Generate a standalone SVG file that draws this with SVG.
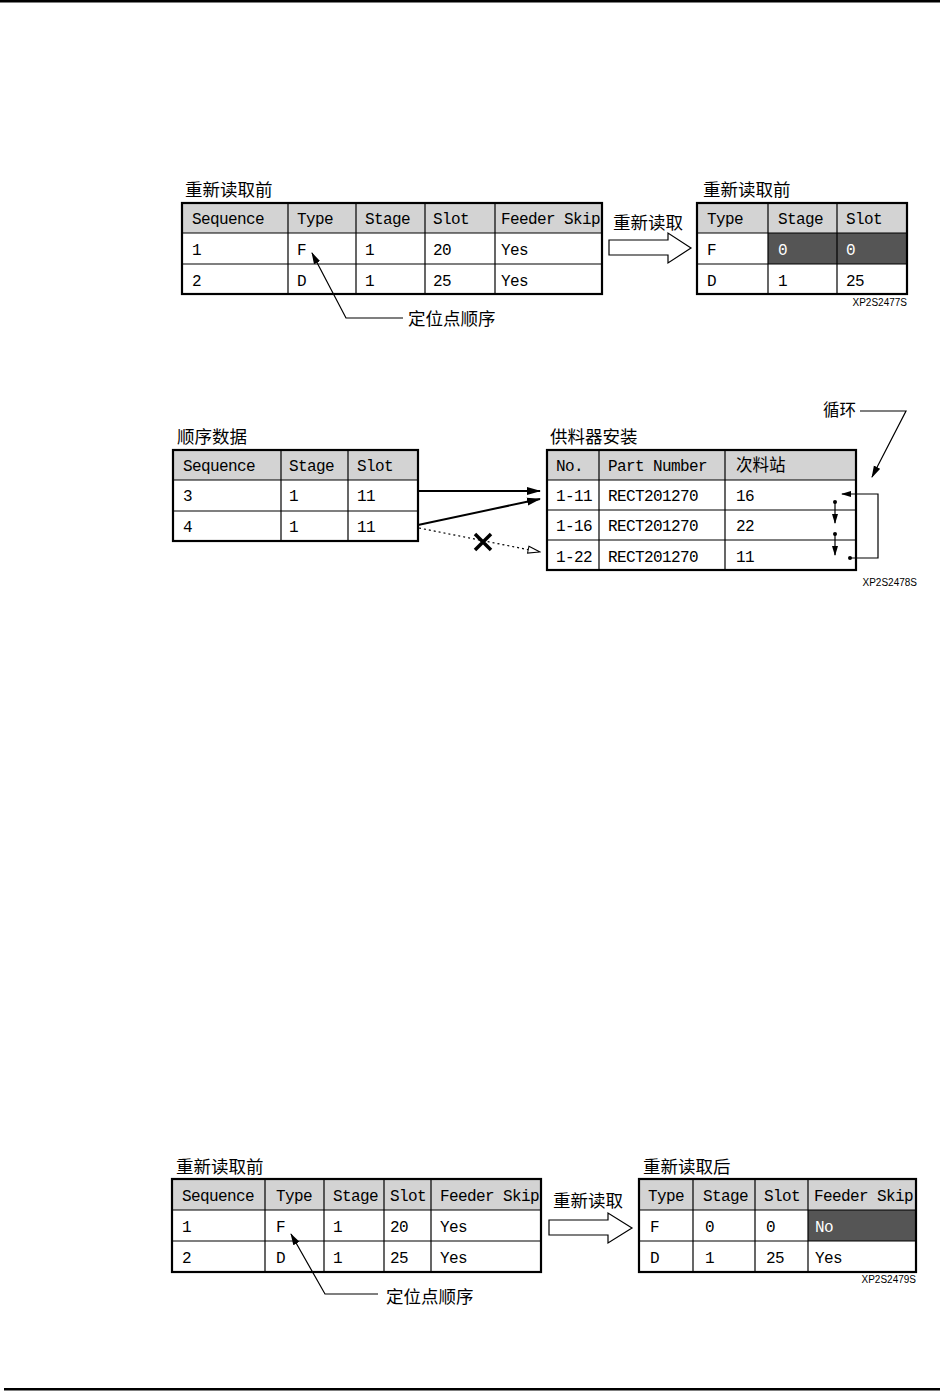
<svg xmlns="http://www.w3.org/2000/svg" width="949" height="1391" viewBox="0 0 949 1391">
<defs>
<style>
.t{font-family:"Liberation Mono","DejaVu Sans Mono",monospace;font-size:16px;letter-spacing:-0.6px;fill:#000}
.w{fill:#fff}
.c{font-family:"Noto Sans CJK SC","Noto Sans",sans-serif;font-size:17.5px;fill:#000}
.cs{font-family:"Noto Sans CJK SC","Noto Sans",sans-serif;font-size:16.5px;fill:#000}
.id{font-family:"Liberation Sans Narrow","Liberation Sans",sans-serif;font-size:10px;fill:#000;text-anchor:end}
.hdr{fill:#d3d3d3}
.box{fill:none;stroke:#000;stroke-width:2.2}
.ln{stroke:#000;stroke-width:1.2;fill:none}
.ar{stroke:#000;stroke-width:1.2;fill:none}
.thick{stroke:#000;stroke-width:2;fill:none}
.hollow{fill:#fff;stroke:#000;stroke-width:1.2}
</style>
<marker id="ah" viewBox="0 0 12 8" refX="11" refY="4" markerWidth="12" markerHeight="8" markerUnits="userSpaceOnUse" orient="auto">
<path d="M0,0.5 L12,4 L0,7.5 Z" fill="#000"/>
</marker>
<marker id="ahs" viewBox="0 0 10 6" refX="9" refY="3" markerWidth="10" markerHeight="6" markerUnits="userSpaceOnUse" orient="auto">
<path d="M0,0 L10,3 L0,6 Z" fill="#000"/>
</marker>
<marker id="ahl" viewBox="0 0 14 10" refX="13" refY="5" markerWidth="14" markerHeight="10" markerUnits="userSpaceOnUse" orient="auto">
<path d="M0,1 L14,5 L0,9 Z" fill="#000"/>
</marker>
<marker id="aho" viewBox="0 0 14 10" refX="13" refY="5" markerWidth="14" markerHeight="10" markerUnits="userSpaceOnUse" orient="auto">
<path d="M1,1.5 L13,5 L1,8.5 Z" fill="#fff" stroke="#000" stroke-width="1"/>
</marker>
</defs>
<rect width="949" height="1391" fill="#fff"/>
<rect x="0" y="0" width="940" height="2.5" fill="#000"/>
<rect x="4" y="1388" width="936" height="2.5" fill="#000"/>

<!-- Section 1 -->
<g id="t1-before">
<text class="c" x="185" y="196">重新读取前</text>
<rect class="hdr" x="182" y="203" width="420" height="30"/>
<line class="ln" x1="182" y1="233" x2="602" y2="233"/>
<line class="ln" x1="182" y1="264" x2="602" y2="264"/>
<line class="ln" x1="288" y1="203" x2="288" y2="294"/>
<line class="ln" x1="356" y1="203" x2="356" y2="294"/>
<line class="ln" x1="425" y1="203" x2="425" y2="294"/>
<line class="ln" x1="495" y1="203" x2="495" y2="294"/>
<rect class="box" x="182" y="203" width="420" height="91"/>
<text class="t" x="192" y="224">Sequence</text><text class="t" x="297" y="224">Type</text><text class="t" x="365" y="224">Stage</text><text class="t" x="433" y="224">Slot</text><text class="t" x="501" y="224">Feeder Skip</text>
<text class="t" x="192" y="255">1</text><text class="t" x="297" y="255">F</text><text class="t" x="365" y="255">1</text><text class="t" x="433" y="255">20</text><text class="t" x="501" y="255">Yes</text>
<text class="t" x="192" y="286">2</text><text class="t" x="297" y="286">D</text><text class="t" x="365" y="286">1</text><text class="t" x="433" y="286">25</text><text class="t" x="501" y="286">Yes</text>
</g>
<g id="t1-label">
<text class="c" x="408" y="325">定位点顺序</text>
</g>
<g id="t1-reread">
<text class="c" x="613" y="229">重新读取</text>
<path class="hollow" d="M609,240 L668,240 L668,233 L691,248 L668,263 L668,255 L609,255 Z"/>
</g>
<g id="t1-after">
<text class="c" x="703" y="196">重新读取前</text>
<rect class="hdr" x="697" y="203" width="210" height="30"/>
<rect x="768" y="233" width="139" height="31" fill="#555"/>
<line class="ln" x1="697" y1="233" x2="907" y2="233"/>
<line class="ln" x1="697" y1="264" x2="907" y2="264"/>
<line class="ln" x1="768" y1="203" x2="768" y2="294"/>
<line class="ln" x1="837" y1="203" x2="837" y2="294"/>
<rect class="box" x="697" y="203" width="210" height="91"/>
<text class="t" x="707" y="224">Type</text><text class="t" x="778" y="224">Stage</text><text class="t" x="846" y="224">Slot</text>
<text class="t" x="707" y="255">F</text><text class="t w" x="778" y="255">0</text><text class="t w" x="846" y="255">0</text>
<text class="t" x="707" y="286">D</text><text class="t" x="778" y="286">1</text><text class="t" x="846" y="286">25</text>
<text class="id" x="907" y="306">XP2S2477S</text>
</g>

<!-- Section 2 -->
<g id="t2-seq">
<text class="c" x="177" y="443">顺序数据</text>
<rect class="hdr" x="173" y="450" width="245" height="30"/>
<line class="ln" x1="173" y1="480" x2="418" y2="480"/>
<line class="ln" x1="173" y1="511" x2="418" y2="511"/>
<line class="ln" x1="281" y1="450" x2="281" y2="541"/>
<line class="ln" x1="348" y1="450" x2="348" y2="541"/>
<rect class="box" x="173" y="450" width="245" height="91"/>
<text class="t" x="183" y="471">Sequence</text><text class="t" x="289" y="471">Stage</text><text class="t" x="357" y="471">Slot</text>
<text class="t" x="183" y="501">3</text><text class="t" x="289" y="501">1</text><text class="t" x="357" y="501">11</text>
<text class="t" x="183" y="532">4</text><text class="t" x="289" y="532">1</text><text class="t" x="357" y="532">11</text>
</g>
<g id="t2-feeder">
<text class="c" x="550" y="443">供料器安装</text>
<rect class="hdr" x="547" y="450" width="309" height="30"/>
<line class="ln" x1="547" y1="480" x2="856" y2="480"/>
<line class="ln" x1="547" y1="510" x2="856" y2="510"/>
<line class="ln" x1="547" y1="540" x2="856" y2="540"/>
<line class="ln" x1="599" y1="450" x2="599" y2="570"/>
<line class="ln" x1="725" y1="450" x2="725" y2="570"/>
<rect class="box" x="547" y="450" width="309" height="120"/>
<text class="t" x="556" y="471">No.</text><text class="t" x="608" y="471">Part Number</text><text class="cs" x="736" y="471">次料站</text>
<text class="t" x="556" y="501">1-11</text><text class="t" x="608" y="501">RECT201270</text><text class="t" x="736" y="501">16</text>
<text class="t" x="556" y="531">1-16</text><text class="t" x="608" y="531">RECT201270</text><text class="t" x="736" y="531">22</text>
<text class="t" x="556" y="562">1-22</text><text class="t" x="608" y="562">RECT201270</text><text class="t" x="736" y="562">11</text>
<text class="id" x="917" y="586">XP2S2478S</text>
</g>
<g id="t2-loop-label">
<text class="cs" x="823" y="416">循环</text>
</g>

<!-- Section 3 -->
<g id="t3-before">
<text class="c" x="176" y="1173">重新读取前</text>
<rect class="hdr" x="172" y="1179" width="369" height="31"/>
<line class="ln" x1="172" y1="1210" x2="541" y2="1210"/>
<line class="ln" x1="172" y1="1241" x2="541" y2="1241"/>
<line class="ln" x1="265" y1="1179" x2="265" y2="1272"/>
<line class="ln" x1="324" y1="1179" x2="324" y2="1272"/>
<line class="ln" x1="384" y1="1179" x2="384" y2="1272"/>
<line class="ln" x1="431" y1="1179" x2="431" y2="1272"/>
<rect class="box" x="172" y="1179" width="369" height="93"/>
<text class="t" x="182" y="1201">Sequence</text><text class="t" x="276" y="1201">Type</text><text class="t" x="333" y="1201">Stage</text><text class="t" x="390" y="1201">Slot</text><text class="t" x="440" y="1201">Feeder Skip</text>
<text class="t" x="182" y="1232">1</text><text class="t" x="276" y="1232">F</text><text class="t" x="333" y="1232">1</text><text class="t" x="390" y="1232">20</text><text class="t" x="440" y="1232">Yes</text>
<text class="t" x="182" y="1263">2</text><text class="t" x="276" y="1263">D</text><text class="t" x="333" y="1263">1</text><text class="t" x="390" y="1263">25</text><text class="t" x="440" y="1263">Yes</text>
</g>
<g id="t3-label">
<text class="c" x="386" y="1303">定位点顺序</text>
</g>
<g id="t3-reread">
<text class="c" x="553" y="1207">重新读取</text>
<path class="hollow" d="M549,1220 L608,1220 L608,1213 L632,1228 L608,1243 L608,1235 L549,1235 Z"/>
</g>
<g id="t3-after">
<text class="c" x="643" y="1173">重新读取后</text>
<rect class="hdr" x="639" y="1179" width="277" height="31"/>
<rect x="808" y="1210" width="108" height="31" fill="#555"/>
<line class="ln" x1="639" y1="1210" x2="916" y2="1210"/>
<line class="ln" x1="639" y1="1241" x2="916" y2="1241"/>
<line class="ln" x1="693" y1="1179" x2="693" y2="1272"/>
<line class="ln" x1="755" y1="1179" x2="755" y2="1272"/>
<line class="ln" x1="808" y1="1179" x2="808" y2="1272"/>
<rect class="box" x="639" y="1179" width="277" height="93"/>
<text class="t" x="648" y="1201">Type</text><text class="t" x="703" y="1201">Stage</text><text class="t" x="764" y="1201">Slot</text><text class="t" x="814" y="1201">Feeder Skip</text>
<text class="t" x="650" y="1232">F</text><text class="t" x="705" y="1232">0</text><text class="t" x="766" y="1232">0</text><text class="t w" x="815" y="1232">No</text>
<text class="t" x="650" y="1263">D</text><text class="t" x="705" y="1263">1</text><text class="t" x="766" y="1263">25</text><text class="t" x="815" y="1263">Yes</text>
<text class="id" x="916" y="1283">XP2S2479S</text>
</g>

<g id="connectors">
<path class="ar" d="M403,318 L346,318 L312,253" marker-end="url(#ah)"/>
<path class="ar" d="M378,1294 L325,1294 L291,1234" marker-end="url(#ah)"/>
<line class="thick" x1="418" y1="491" x2="540" y2="491" marker-end="url(#ahl)"/>
<line class="thick" x1="418" y1="525" x2="540" y2="499" marker-end="url(#ahl)"/>
<line x1="419" y1="528" x2="540" y2="552" stroke="#000" stroke-width="1.2" stroke-dasharray="2,3" marker-end="url(#aho)"/>
<path d="M475,534 L491,550 M491,534 L475,550" stroke="#000" stroke-width="3.5" fill="none"/>
<path class="ar" d="M860,411 L906,411 L872,477" marker-end="url(#ah)"/>
<path class="ar" d="M850,558 L878,558 L878,494 L842,494" marker-end="url(#ahs)"/>
<circle cx="850" cy="558" r="2"/>
<line class="ar" x1="835" y1="502" x2="835" y2="523" marker-end="url(#ahs)"/>
<circle cx="835" cy="502" r="2"/>
<line class="ar" x1="835" y1="534" x2="835" y2="555" marker-end="url(#ahs)"/>
<circle cx="835" cy="534" r="2"/>
</g>
</svg>
